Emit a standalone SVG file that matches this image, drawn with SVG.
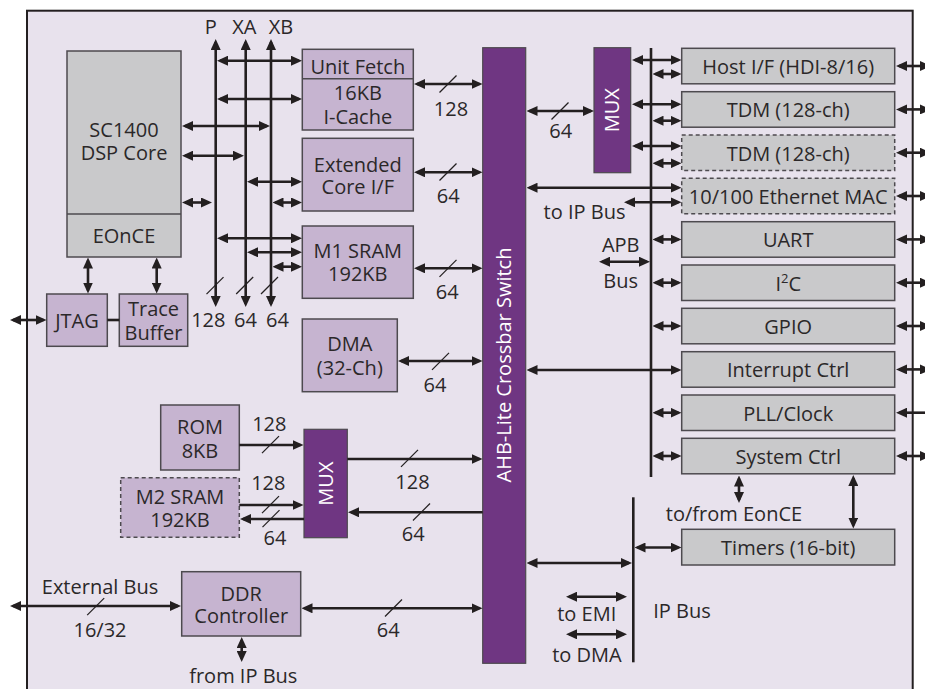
<svg xmlns="http://www.w3.org/2000/svg" width="925" height="689" viewBox="0 0 925 689">
<style>
text{font-family:"Open Sans","Noto Sans","DejaVu Sans",sans-serif;font-size:20px;fill:#2b2829;text-anchor:middle}
.w{fill:#ffffff}
.lp{fill:#c6b4d0;stroke:#4d4a4f;stroke-width:1.5}
.gr{fill:#c9c9cb;stroke:#4d4a4f;stroke-width:1.5}
.dash{stroke-dasharray:4 3}
.dp{fill:#6f3682;stroke:#4d4a4f;stroke-width:1.2}
.c line{stroke:#231f20;stroke-width:2.6;fill:none}
.c .d{marker-start:url(#ah);marker-end:url(#ah)}
.c .e{marker-end:url(#ah)}
.c .s{marker-start:url(#ah)}
.sl line{stroke:#231f20;stroke-width:1.2}
</style>
<defs>
<marker id="ah" viewBox="0 0 11 10" refX="8" refY="5" markerWidth="11" markerHeight="10" markerUnits="userSpaceOnUse" orient="auto-start-reverse">
<path d="M0,0 L11,5 L0,10 z" fill="#231f20"/>
</marker>
</defs>
<rect x="0" y="0" width="925" height="689" fill="#ffffff"/>
<rect id="frame" x="27" y="10.7" width="885.7" height="700" fill="#e8e2ed" stroke="#231f20" stroke-width="2"/>

<g id="core">
<rect class="gr" x="67" y="51" width="114" height="206"/>
<line x1="67" y1="214" x2="181" y2="214" stroke="#4d4a4f" stroke-width="1.5"/>
<text x="124" y="136.5">SC1400</text>
<text x="124" y="159.5">DSP Core</text>
<text x="124" y="243">EOnCE</text>
</g>
<g id="unitfetch">
<rect class="lp" x="302.3" y="49.3" width="111" height="80.7"/>
<line x1="302.3" y1="78.7" x2="413.3" y2="78.7" stroke="#4d4a4f" stroke-width="1.5"/>
<text x="357.8" y="74">Unit Fetch</text>
<text x="357.8" y="100">16KB</text>
<text x="357.8" y="124">I-Cache</text>
</g>
<g id="extcore">
<rect class="lp" x="302.3" y="138.3" width="111" height="72.7"/>
<text x="357.8" y="171.7">Extended</text>
<text x="357.8" y="194.3">Core I/F</text>
</g>
<g id="m1sram">
<rect class="lp" x="302.3" y="226" width="111" height="72.3"/>
<text x="357.8" y="258.3">M1 SRAM</text>
<text x="357.8" y="281">192KB</text>
</g>
<g id="dma">
<rect class="lp" x="302.3" y="319" width="95" height="72.7"/>
<text x="349.8" y="350.7">DMA</text>
<text x="349.8" y="375">(32-Ch)</text>
</g>
<g id="jtag">
<rect class="lp" x="46.7" y="294" width="60.6" height="52.3"/>
<text x="77" y="328.3">JTAG</text>
</g>
<g id="trace">
<rect class="lp" x="119.3" y="294" width="68.4" height="52.3"/>
<text x="153.5" y="316">Trace</text>
<text x="153.5" y="340">Buffer</text>
</g>
<g id="rom">
<rect class="lp" x="160.7" y="405" width="78.6" height="65"/>
<text x="200" y="434">ROM</text>
<text x="200" y="457.5">8KB</text>
</g>
<g id="m2sram">
<rect class="lp dash" x="120.7" y="477.7" width="118.6" height="59.6"/>
<text x="180" y="504.3">M2 SRAM</text>
<text x="180" y="527.3">192KB</text>
</g>
<g id="mux2">
<rect class="dp" x="304" y="429.3" width="43.3" height="108.4"/>
<text class="w" transform="translate(325.7,483.6) rotate(-90)" x="0" y="7">MUX</text>
</g>
<g id="ddr">
<rect class="lp" x="181.7" y="571.7" width="119" height="64.3"/>
<text x="241.2" y="600.7">DDR</text>
<text x="241.2" y="622.7">Controller</text>
</g>
<g id="crossbar">
<rect class="dp" x="482.7" y="47.7" width="43" height="615.6"/>
<text class="w" transform="translate(504.2,365) rotate(-90)" x="0" y="7">AHB-Lite Crossbar Switch</text>
</g>
<g id="mux1">
<rect class="dp" x="594" y="47.7" width="36.7" height="125"/>
<text class="w" transform="translate(612.3,110.2) rotate(-90)" x="0" y="7">MUX</text>
</g>
<g id="hostif"><rect class="gr" x="681.7" y="48.3" width="213" height="35.5"/><text x="788.2" y="74">Host I/F (HDI-8/16)</text></g>
<g id="tdm1"><rect class="gr" x="681.7" y="91.7" width="213" height="35.5"/><text x="788.2" y="117.4">TDM (128-ch)</text></g>
<g id="tdm2"><rect class="gr dash" x="681.7" y="135" width="213" height="35.5"/><text x="788.2" y="160.7">TDM (128-ch)</text></g>
<g id="ethernet"><rect class="gr dash" x="681.7" y="178.3" width="213" height="35.5"/><text x="788.2" y="204">10/100 Ethernet MAC</text></g>
<g id="uart"><rect class="gr" x="681.7" y="221.7" width="213" height="35.5"/><text x="788.2" y="247.4">UART</text></g>
<g id="i2c"><rect class="gr" x="681.7" y="265" width="213" height="35.5"/><text x="788.2" y="290.7">I<tspan font-size="13" dy="-8">2</tspan><tspan dy="8">C</tspan></text></g>
<g id="gpio"><rect class="gr" x="681.7" y="308.3" width="213" height="35.5"/><text x="788.2" y="334">GPIO</text></g>
<g id="intctrl"><rect class="gr" x="681.7" y="351.7" width="213" height="35.5"/><text x="788.2" y="377.4">Interrupt Ctrl</text></g>
<g id="pll"><rect class="gr" x="681.7" y="395" width="213" height="35.5"/><text x="788.2" y="420.7">PLL/Clock</text></g>
<g id="sysctrl"><rect class="gr" x="681.7" y="438.3" width="213" height="35.5"/><text x="788.2" y="464">System Ctrl</text></g>
<g id="timers"><rect class="gr" x="681.7" y="529.3" width="213" height="35.7"/><text x="788.2" y="555">Timers (16-bit)</text></g>

<g id="connectors" class="c">
<line class="d" x1="215.7" y1="42" x2="215.7" y2="304"/>
<line class="d" x1="245.7" y1="42" x2="245.7" y2="304"/>
<line class="d" x1="271" y1="42" x2="271" y2="304"/>
<line class="d" x1="220" y1="60.7" x2="299" y2="60.7"/>
<line class="d" x1="220" y1="99" x2="299" y2="99"/>
<line class="d" x1="185" y1="126" x2="267" y2="126"/>
<line class="d" x1="185" y1="155.7" x2="241" y2="155.7"/>
<line class="d" x1="250" y1="181.7" x2="299" y2="181.7"/>
<line class="d" x1="185" y1="202.5" x2="209" y2="202.5"/>
<line class="d" x1="275.5" y1="202.5" x2="299" y2="202.5"/>
<line class="d" x1="220" y1="238.3" x2="299" y2="238.3"/>
<line class="d" x1="250" y1="252.3" x2="299" y2="252.3"/>
<line class="d" x1="275.5" y1="266.7" x2="299" y2="266.7"/>
<line class="d" x1="417" y1="84" x2="479.5" y2="84"/>
<line class="d" x1="417" y1="172.3" x2="479.5" y2="172.3"/>
<line class="d" x1="417" y1="268.3" x2="479.5" y2="268.3"/>
<line class="d" x1="401" y1="361" x2="479.5" y2="361"/>
<line class="d" x1="529.5" y1="111" x2="591" y2="111"/>
<line x1="651" y1="48" x2="651" y2="477"/>
<line class="d" x1="635" y1="60" x2="678.5" y2="60"/>
<line class="d" x1="655.5" y1="74" x2="678.5" y2="74"/>
<line class="d" x1="635" y1="104.3" x2="678.5" y2="104.3"/>
<line class="d" x1="655.5" y1="120.7" x2="678.5" y2="120.7"/>
<line class="d" x1="635" y1="146" x2="678.5" y2="146"/>
<line class="d" x1="655.5" y1="163.3" x2="678.5" y2="163.3"/>
<line class="d" x1="529.5" y1="187.7" x2="678.5" y2="187.7"/>
<line class="d" x1="627" y1="202.3" x2="678.5" y2="202.3"/>
<line class="d" x1="602" y1="261.7" x2="647" y2="261.7"/>
<line class="d" x1="655.5" y1="239.4" x2="678.5" y2="239.4"/>
<line class="d" x1="655.5" y1="282.7" x2="678.5" y2="282.7"/>
<line class="d" x1="655.5" y1="326" x2="678.5" y2="326"/>
<line class="d" x1="529.5" y1="370" x2="678.5" y2="370"/>
<line class="d" x1="655.5" y1="412.7" x2="678.5" y2="412.7"/>
<line class="d" x1="655.5" y1="456" x2="678.5" y2="456"/>
<line class="d" x1="899" y1="66" x2="928" y2="66"/>
<line class="d" x1="899" y1="109.4" x2="928" y2="109.4"/>
<line class="d" x1="899" y1="152.7" x2="928" y2="152.7"/>
<line class="d" x1="899" y1="196" x2="928" y2="196"/>
<line class="d" x1="899" y1="239.4" x2="928" y2="239.4"/>
<line class="d" x1="899" y1="282.7" x2="928" y2="282.7"/>
<line class="d" x1="899" y1="326" x2="928" y2="326"/>
<line class="d" x1="899" y1="369.4" x2="928" y2="369.4"/>
<line class="s" x1="899" y1="412.7" x2="926" y2="412.7"/>
<line class="d" x1="899" y1="456" x2="928" y2="456"/>
<line class="d" x1="853.3" y1="478" x2="853.3" y2="525.5"/>
<line class="d" x1="739" y1="478.5" x2="739" y2="500"/>
<line x1="633.3" y1="497.3" x2="633.3" y2="662.3"/>
<line class="d" x1="637.5" y1="547.5" x2="678.5" y2="547.5"/>
<line class="d" x1="529.5" y1="563" x2="629" y2="563"/>
<line class="d" x1="569" y1="596.7" x2="624" y2="596.7"/>
<line class="d" x1="569" y1="634.3" x2="624" y2="634.3"/>
<line class="d" x1="13" y1="320" x2="43.5" y2="320"/>
<line x1="107.3" y1="320" x2="119.3" y2="320"/>
<line class="d" x1="88" y1="260.5" x2="88" y2="290.5"/>
<line class="d" x1="156.7" y1="260.5" x2="156.7" y2="290.5"/>
<line class="e" x1="239.3" y1="445" x2="300.5" y2="445"/>
<line class="e" x1="239.3" y1="505" x2="300.5" y2="505"/>
<line class="e" x1="304" y1="519" x2="243" y2="519"/>
<line class="e" x1="347.3" y1="459" x2="479.5" y2="459"/>
<line class="e" x1="482.7" y1="512.3" x2="351" y2="512.3"/>
<line class="d" x1="13" y1="606" x2="178" y2="606"/>
<line class="d" x1="304.5" y1="608.3" x2="479.5" y2="608.3"/>
<line class="d" x1="241.7" y1="640" x2="241.7" y2="659"/>
</g>

<g id="slashes" class="sl">
<line x1="206.5" y1="294.2" x2="223.5" y2="277.2"/>
<line x1="236.2" y1="294" x2="253.2" y2="277"/>
<line x1="261" y1="294" x2="278" y2="277"/>
<line x1="439.5" y1="92.5" x2="456.5" y2="75.5"/>
<line x1="439.5" y1="180.5" x2="456.5" y2="163.5"/>
<line x1="551.5" y1="119.5" x2="568.5" y2="102.5"/>
<line x1="439.5" y1="276.8" x2="456.5" y2="259.8"/>
<line x1="432" y1="369.8" x2="449" y2="352.8"/>
<line x1="262" y1="453.2" x2="279" y2="436.2"/>
<line x1="262" y1="513.2" x2="279" y2="496.2"/>
<line x1="262.5" y1="527.2" x2="279.5" y2="510.2"/>
<line x1="401" y1="466.8" x2="418" y2="449.8"/>
<line x1="413" y1="520.5" x2="430" y2="503.5"/>
<line x1="385" y1="616.5" x2="402" y2="599.5"/>
<line x1="87.2" y1="615.2" x2="104.2" y2="598.2"/>
</g>

<g id="labels">
<text x="210.7" y="34">P</text>
<text x="244.3" y="34">XA</text>
<text x="281" y="34">XB</text>
<text x="208.3" y="327">128</text>
<text x="245.5" y="327">64</text>
<text x="277.5" y="327">64</text>
<text x="451" y="115.7">128</text>
<text x="560.7" y="138.3">64</text>
<text x="448.3" y="202.7">64</text>
<text x="447.3" y="299.3">64</text>
<text x="435" y="391.7">64</text>
<text x="584.5" y="219.3">to IP Bus</text>
<text x="620.7" y="252.3">APB</text>
<text x="620.7" y="287.7">Bus</text>
<text x="269.3" y="431">128</text>
<text x="268.3" y="490">128</text>
<text x="275" y="544.5">64</text>
<text x="412.5" y="489.3">128</text>
<text x="413.3" y="540.7">64</text>
<text x="100" y="594">External Bus</text>
<text x="100" y="636.7">16/32</text>
<text x="388.3" y="636.7">64</text>
<text x="243.3" y="682.5">from IP Bus</text>
<text x="586.7" y="620.7">to EMI</text>
<text x="587" y="661.7">to DMA</text>
<text x="682" y="618.3">IP Bus</text>
<text x="734" y="520.7">to/from EonCE</text>
</g>
</svg>
